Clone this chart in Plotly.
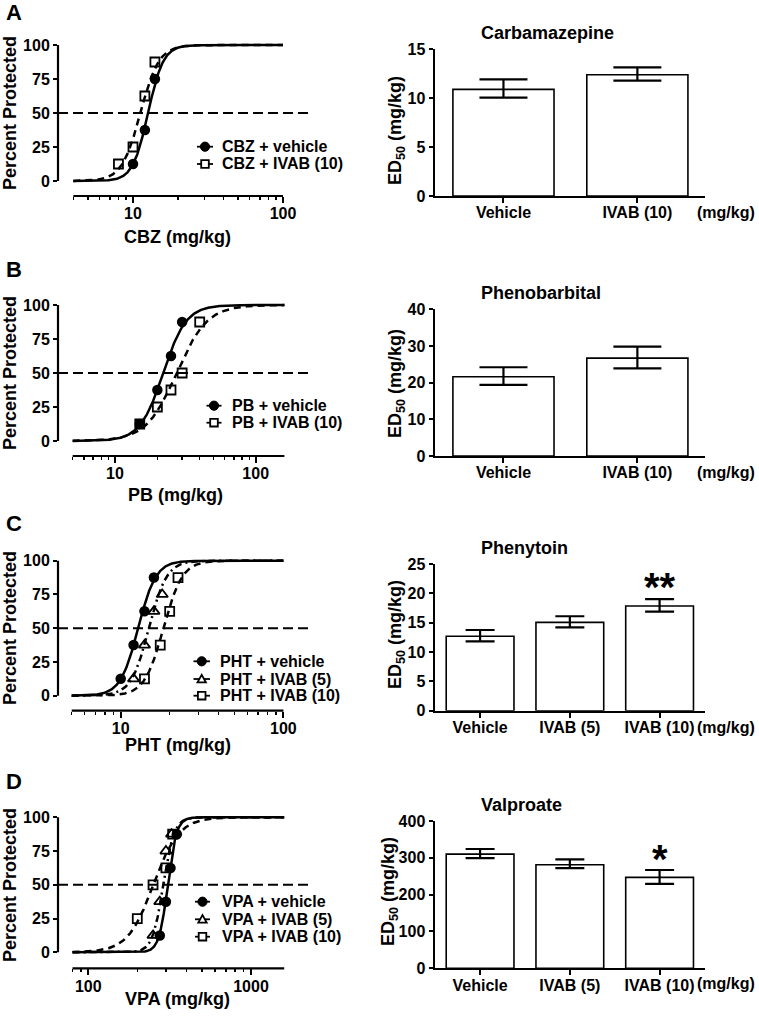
import numpy as np
import plotly.graph_objects as go

W, H = 759, 1020
FONT = "Liberation Sans, Arial, sans-serif"

# ---------------- Panel A : carbamazepine ----------------
cbz_veh_dose = [10, 12, 14]
cbz_veh_pct = [12.5, 37.5, 75]
cbz_ivab_dose = [8, 10, 12, 14]
cbz_ivab_pct = [12.5, 25, 62.5, 87.5]
cbz_fit_ed50 = [12.6, 11.2]          # vehicle, IVAB(10)
cbz_fit_hill = [8.5, 7.0]
cbz_groups = ["Vehicle", "IVAB (10)"]
cbz_ed50 = [10.9, 12.4]
cbz_upper = [11.93, 13.16]
cbz_lower = [10.05, 11.79]

# ---------------- Panel B : phenobarbital ----------------
pb_veh_dose = [15, 20, 25, 30]
pb_veh_pct = [12.5, 37.5, 62.5, 87.5]
pb_ivab_dose = [15, 20, 25, 30, 40]
pb_ivab_pct = [12.5, 25, 37.5, 50, 87.5]
pb_fit_ed50 = [22.0, 27.4]
pb_fit_hill = [5.3, 4.0]
pb_groups = ["Vehicle", "IVAB (10)"]
pb_ed50 = [21.6, 26.7]
pb_upper = [24.2, 29.8]
pb_lower = [19.4, 23.9]

# ---------------- Panel C : phenytoin ----------------
pht_veh_dose = [10, 12, 14, 16]
pht_veh_pct = [12.5, 37.5, 62.5, 87.5]
pht_iv5_dose = [12, 14, 16, 18]
pht_iv5_pct = [12.5, 37.5, 62.5, 75]
pht_iv10_dose = [14, 17.5, 20, 22.5]
pht_iv10_pct = [12.5, 37.5, 62.5, 87.5]
pht_fit_ed50 = [12.8, 14.9, 18.3]
pht_fit_hill = [8.0, 8.0, 7.5]
pht_groups = ["Vehicle", "IVAB (5)", "IVAB (10)"]
pht_ed50 = [12.7, 15.05, 17.85]
pht_upper = [13.75, 16.1, 19.0]
pht_lower = [11.8, 14.2, 16.9]

# ---------------- Panel D : valproate ----------------
vpa_veh_dose = [275, 300, 320, 350]
vpa_veh_pct = [12.5, 37.5, 62.5, 87.5]
vpa_iv5_dose = [250, 275, 300, 325]
vpa_iv5_pct = [12.5, 37.5, 75, 87.5]
vpa_iv10_dose = [200, 250, 300, 330]
vpa_iv10_pct = [25, 50, 62.5, 87.5]
vpa_fit_ed50 = [308, 289, 251]
vpa_fit_hill = [16, 13, 5.5]
vpa_groups = ["Vehicle", "IVAB (5)", "IVAB (10)"]
vpa_ed50 = [310, 281, 247]
vpa_upper = [324, 296, 267]
vpa_lower = [299, 272, 229]

# ---------------- text ----------------
panel_letters = ["A", "B", "C", "D"]
x_titles = ["CBZ (mg/kg)", "PB (mg/kg)", "PHT (mg/kg)", "VPA (mg/kg)"]
bar_titles = ["Carbamazepine", "Phenobarbital", "Phenytoin", "Valproate"]
legend_A = ["CBZ + vehicle", "CBZ + IVAB (10)"]
legend_B = ["PB + vehicle", "PB + IVAB (10)"]
legend_C = ["PHT + vehicle", "PHT + IVAB (5)", "PHT + IVAB (10)"]
legend_D = ["VPA + vehicle", "VPA + IVAB (5)", "VPA + IVAB (10)"]
stars_C = "**"
stars_D = "*"


def fx(px):
    return px / W


def fy(py):
    return 1 - py / H


def ref(n, ax):
    return ax if n == 1 else f"{ax}{n}"


fig = go.Figure()
shapes = []
annotations = []
layout = dict(
    width=W, height=H, autosize=False, margin=dict(l=0, r=0, t=0, b=0, pad=0, autoexpand=False),
    plot_bgcolor="white", paper_bgcolor="white", showlegend=False,
    font=dict(family=FONT, size=16, color="black", weight="bold"),
)

# geometry of the dose-response panels (pixel layout)
# decade_px, ref_value, ref_px, axis_lo, axis_hi, p100, p0, p_axis
left_geo = [
    (150.0, 10, 133.0, 4, 100, 45.0, 181.0, 196.0),
    (140.7, 10, 115.0, 5, 160, 305.0, 441.0, 456.0),
    (162.7, 10, 120.7, 5, 100, 560.7, 695.7, 710.7),
    (162.7, 100, 88.3, 80, 1600, 817.3, 952.3, 968.3),
]
left_major = [[10, 100], [10, 100], [10, 100], [100, 1000]]
left_minor = [
    [4, 5, 6, 7, 8, 9, 20, 30, 40, 50, 60, 70, 80, 90],
    [5, 6, 7, 8, 9, 20, 30, 40, 50, 60, 70, 80, 90],
    [5, 6, 7, 8, 9, 20, 30, 40, 50, 60, 70, 80, 90],
    [80, 90, 200, 300, 400, 500, 600, 700, 800, 900],
]
XL, XR = 58.0, 311.7

for i, (dec, rv, rp, lo, hi, p100, p0, pax) in enumerate(left_geo):
    n = i + 1
    s = (p0 - p100) / 100.0
    top = p100 - 3
    layout[f"xaxis{'' if n == 1 else n}"] = dict(
        domain=[fx(XL), fx(XR)], anchor=ref(n, "y"), type="log", automargin=False,
        range=[np.log10(rv) + (XL - rp) / dec, np.log10(rv) + (XR - rp) / dec],
        showgrid=False, zeroline=False, showline=False,
        tickmode="array", tickvals=left_major[i], ticktext=[str(v) for v in left_major[i]],
        ticks="outside", ticklen=6, tickwidth=2, tickcolor="black",
        tickfont=dict(size=16), ticklabelstandoff=-3,
        minor=dict(tickmode="array", tickvals=left_minor[i], ticks="outside",
                   ticklen=3, tickwidth=1.5, tickcolor="black", showgrid=False),
    )
    layout[f"yaxis{'' if n == 1 else n}"] = dict(
        domain=[fy(pax), fy(top)], anchor=ref(n, "x"), automargin=False,
        range=[-(pax - p0) / s, 100 + (p100 - top) / s],
        showgrid=False, zeroline=False, showline=False,
        tickmode="array", tickvals=[0, 25, 50, 75, 100],
        ticks="outside", ticklen=4, tickwidth=2, tickcolor="black",
        tickfont=dict(size=16),
    )
    # Prism-style detached axis lines
    shapes.append(dict(type="line", xref=ref(n, "x"), yref=ref(n, "y") + " domain",
                       x0=lo, x1=hi, y0=0, y1=0, line=dict(color="black", width=2.2)))
    shapes.append(dict(type="line", xref=ref(n, "x") + " domain", yref=ref(n, "y"),
                       x0=0, x1=0, y0=0, y1=100, line=dict(color="black", width=2.2)))
    # 50 % reference line
    shapes.append(dict(type="line", xref=ref(n, "x") + " domain", yref=ref(n, "y"),
                       x0=0, x1=1, y0=50, y1=50,
                       line=dict(color="black", width=2, dash="10px,5px")))

DASH = {"solid": "solid", "dash": "7px,5px", "dashdot": "7px,4px,2px,4px"}
MK = {
    "circle": dict(symbol="circle", size=10.5, color="black"),
    "square": dict(symbol="square-open", size=9, color="black", line=dict(width=1.8)),
    "triangle": dict(symbol="triangle-up-open", size=10, color="black", line=dict(width=1.8)),
}

left_series = [
    [(cbz_veh_dose, cbz_veh_pct, "circle", "solid"),
     (cbz_ivab_dose, cbz_ivab_pct, "square", "dash")],
    [(pb_veh_dose, pb_veh_pct, "circle", "solid"),
     (pb_ivab_dose, pb_ivab_pct, "square", "dash")],
    [(pht_veh_dose, pht_veh_pct, "circle", "solid"),
     (pht_iv5_dose, pht_iv5_pct, "triangle", "dashdot"),
     (pht_iv10_dose, pht_iv10_pct, "square", "dash")],
    [(vpa_veh_dose, vpa_veh_pct, "circle", "solid"),
     (vpa_iv5_dose, vpa_iv5_pct, "triangle", "dashdot"),
     (vpa_iv10_dose, vpa_iv10_pct, "square", "dash")],
]
left_fits = [
    (cbz_fit_ed50, cbz_fit_hill), (pb_fit_ed50, pb_fit_hill),
    (pht_fit_ed50, pht_fit_hill), (vpa_fit_ed50, vpa_fit_hill),
]
left_legends = [legend_A, legend_B, legend_C, legend_D]

for i, series in enumerate(left_series):
    n = i + 1
    lo, hi = left_geo[i][3], left_geo[i][4]
    xs = np.logspace(np.log10(lo), np.log10(hi), 400)
    eds, hills = left_fits[i]
    # fitted curves first
    for k, (dose, pct, mk, dash) in enumerate(series):
        curve = 100.0 / (1.0 + (eds[k] / xs) ** hills[k])
        fig.add_trace(go.Scatter(x=xs, y=curve, mode="lines",
                                 line=dict(color="black", width=2.5, dash=DASH[dash]),
                                 xaxis=ref(n, "x"), yaxis=ref(n, "y"), hoverinfo="skip",
                                 name=left_legends[i][k], showlegend=False))
    for k, (dose, pct, mk, dash) in enumerate(series):
        fig.add_trace(go.Scatter(x=dose, y=pct, mode="markers", marker=MK[mk],
                                 xaxis=ref(n, "x"), yaxis=ref(n, "y"),
                                 name=left_legends[i][k], showlegend=False))

# ---------------- manual Prism-style legends ----------------
# (marker centre x, line x0, line x1, text x, row ys)
leg_geo = [
    (205.0, 197.0, 213.0, 220.0, [146.7, 164.0]),
    (214.0, 206.5, 221.5, 230.0, [405.7, 422.7]),
    (201.7, 193.5, 210.0, 218.3, [661.3, 679.0, 695.7]),
    (202.5, 195.0, 210.0, 220.0, [901.7, 919.3, 936.7]),
]
for i, (cx, lx0, lx1, tx, rows) in enumerate(leg_geo):
    for k, cy in enumerate(rows):
        mk = left_series[i][k][2]
        shapes.append(dict(type="line", xref="paper", yref="paper",
                           x0=fx(lx0), x1=fx(lx1), y0=fy(cy), y1=fy(cy),
                           line=dict(color="black", width=1.8)))
        r = 4.6
        if mk == "circle":
            shapes.append(dict(type="circle", xref="paper", yref="paper",
                               x0=fx(cx - r), x1=fx(cx + r), y0=fy(cy + r), y1=fy(cy - r),
                               fillcolor="black", line=dict(color="black", width=1)))
        elif mk == "square":
            r = 3.8
            shapes.append(dict(type="rect", xref="paper", yref="paper",
                               x0=fx(cx - r), x1=fx(cx + r), y0=fy(cy + r), y1=fy(cy - r),
                               fillcolor="white", line=dict(color="black", width=1.8)))
        else:
            r = 4.2
            path = (f"M {fx(cx - r)},{fy(cy + r * 0.8)} L {fx(cx + r)},{fy(cy + r * 0.8)} "
                    f"L {fx(cx)},{fy(cy - r)} Z")
            shapes.append(dict(type="path", xref="paper", yref="paper", path=path,
                               fillcolor="white", line=dict(color="black", width=1.8)))
        annotations.append(dict(xref="paper", yref="paper", x=fx(tx), y=fy(cy),
                                xanchor="left", yanchor="middle", showarrow=False,
                                text=left_legends[i][k], font=dict(size=16)))

# ---------------- bar panels ----------------
bar_sets = [
    (cbz_groups, cbz_ed50, cbz_upper, cbz_lower),
    (pb_groups, pb_ed50, pb_upper, pb_lower),
    (pht_groups, pht_ed50, pht_upper, pht_lower),
    (vpa_groups, vpa_ed50, vpa_upper, vpa_lower),
]
# ymax, y-max px, axis px, dtick
bar_geo = [(15, 49.3, 196.0, 5), (40, 309.3, 456.0, 10),
           (25, 564.0, 710.7, 5), (400, 821.0, 968.3, 100)]
BXL, BXR = 434.5, 705.0
for i, (groups, vals, up, lowv) in enumerate(bar_sets):
    n = i + 5
    ymax, ptop, pax, dt = bar_geo[i]
    ng = len(groups)
    xr = [-0.515, 1.505] if ng == 2 else [-0.508, 2.506]
    cap = 24 if ng == 2 else 14.5
    layout[f"xaxis{n}"] = dict(
        domain=[fx(BXL), fx(BXR)], anchor=f"y{n}", type="category", range=xr,
        automargin=False,
        showgrid=False, zeroline=False, showline=True, linecolor="black", linewidth=2,
        ticks="outside", ticklen=5, tickwidth=2, tickcolor="black",
        tickfont=dict(size=16), ticklabelstandoff=-4,
    )
    layout[f"yaxis{n}"] = dict(
        domain=[fy(pax), fy(ptop)], anchor=f"x{n}", range=[0, ymax], automargin=False,
        showgrid=False, zeroline=False, showline=True, linecolor="black", linewidth=2,
        tickmode="linear", tick0=0, dtick=dt,
        ticks="outside", ticklen=4, tickwidth=2, tickcolor="black",
        tickfont=dict(size=16),
    )
    fig.add_trace(go.Bar(
        x=groups, y=vals, width=0.755,
        marker=dict(color="white", line=dict(color="black", width=1.6)),
        error_y=dict(type="data", symmetric=False,
                     array=[u - v for u, v in zip(up, vals)],
                     arrayminus=[v - l for v, l in zip(vals, lowv)],
                     color="black", thickness=2.2, width=cap),
        xaxis=f"x{n}", yaxis=f"y{n}", showlegend=False, name=bar_titles[i],
    ))

# significance stars
annotations.append(dict(xref="x7", yref="y7", x="IVAB (10)", y=21.0, text=stars_C,
                        showarrow=False, xanchor="center", yanchor="middle",
                        font=dict(size=40)))
annotations.append(dict(xref="x8", yref="y8", x="IVAB (10)", y=296, text=stars_D,
                        showarrow=False, xanchor="center", yanchor="middle",
                        font=dict(size=40)))

# ---------------- titles / labels ----------------
letter_y = [13, 270, 523, 781]
xtitle_pos = [(177.5, 237), (175, 495), (178, 745), (177.5, 999)]
ytitle_y = [113, 373, 628, 885]
btitle_y = [33, 293, 548, 805]
ed_pos = [(396, 131), (396, 384), (396, 635), (389, 892)]
mgkg_y = [212, 472, 727, 983]
for i in range(4):
    annotations.append(dict(xref="paper", yref="paper", x=fx(4), y=fy(letter_y[i]),
                            xanchor="left", yanchor="middle", showarrow=False,
                            text=panel_letters[i], font=dict(size=22)))
    annotations.append(dict(xref="paper", yref="paper", x=fx(xtitle_pos[i][0]),
                            y=fy(xtitle_pos[i][1]), xanchor="center", yanchor="middle",
                            showarrow=False, text=x_titles[i], font=dict(size=18)))
    annotations.append(dict(xref="paper", yref="paper", x=fx(10), y=fy(ytitle_y[i]),
                            xanchor="center", yanchor="middle", showarrow=False,
                            textangle=-90, text="Percent Protected", font=dict(size=18)))
    annotations.append(dict(xref="paper", yref="paper", x=fx(479), y=fy(btitle_y[i]),
                            xanchor="left", yanchor="middle", showarrow=False,
                            text=bar_titles[i], font=dict(size=18)))
    annotations.append(dict(xref="paper", yref="paper", x=fx(ed_pos[i][0]),
                            y=fy(ed_pos[i][1]), xanchor="center", yanchor="middle",
                            showarrow=False, textangle=-90,
                            text="ED<sub>50</sub> (mg/kg)", font=dict(size=18)))
    annotations.append(dict(xref="paper", yref="paper", x=fx(757), y=fy(mgkg_y[i]),
                            xanchor="right", yanchor="middle", showarrow=False,
                            text="(mg/kg)", font=dict(size=16)))

layout["shapes"] = shapes
layout["annotations"] = annotations
fig.update_layout(**layout)
fig.write_html(
    "out.html",
    config={"displayModeBar": False, "staticPlot": True},
    post_script="document.body.style.margin='0px';document.body.style.overflow='hidden';",
)
